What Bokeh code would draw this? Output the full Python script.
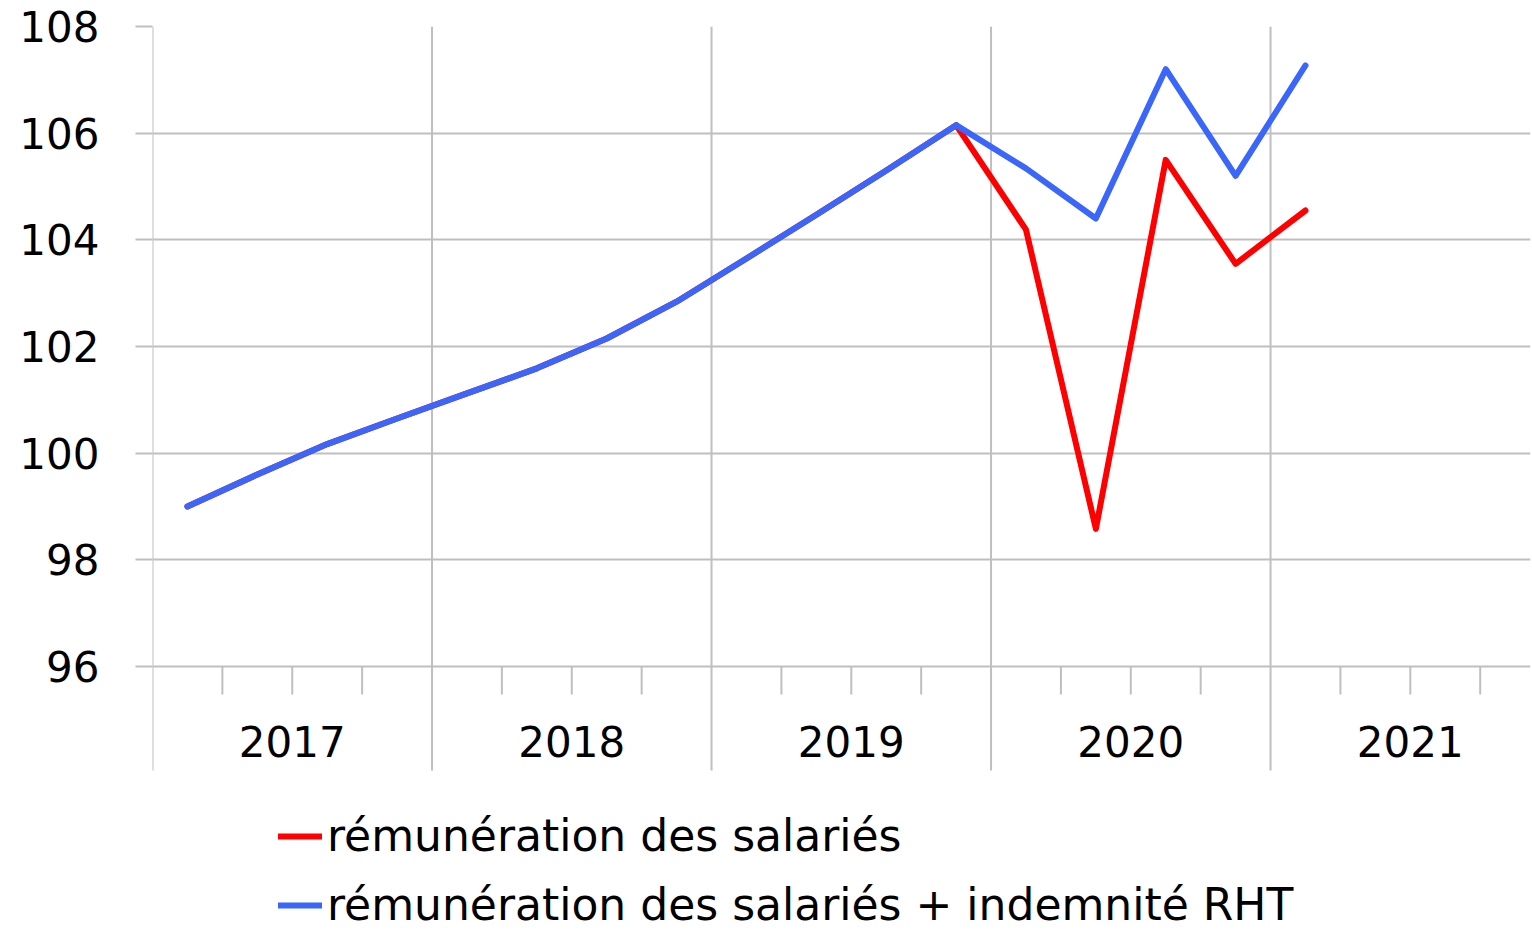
from bokeh.plotting import figure
from bokeh.models import Range1d, FixedTicker, Legend, LegendItem
from bokeh.core.properties import value
from bokeh.embed import file_html
from bokeh.resources import INLINE

# ---- data ----
years = ["2017", "2018", "2019", "2020", "2021"]
quarters_per_year = 4
# quarterly index, 2017 T1 .. 2021 T1
remuneration = [99.0, 99.6, 100.17, 100.65, 101.12, 101.59, 102.15, 102.84,
                103.65, 104.47, 105.3, 106.15, 104.19, 98.58, 105.5, 103.55, 104.55]
remuneration_rht = [99.0, 99.6, 100.17, 100.65, 101.12, 101.59, 102.15, 102.84,
                    103.65, 104.47, 105.3, 106.15, 105.34, 104.4, 107.2, 105.2, 107.27]
y_ticks = [96, 98, 100, 102, 104, 106, 108]
series_labels = ["rémunération des salariés",
                 "rémunération des salariés + indemnité RHT"]

# ---- derived positions ----
n_q = len(years) * quarters_per_year
xpos = [i + 0.5 for i in range(len(remuneration))]
year_bounds = [i * quarters_per_year for i in range(len(years))]
year_centers = [b + quarters_per_year / 2 for b in year_bounds]
quarter_ticks = [q for q in range(1, n_q) if q % quarters_per_year != 0]

FONT = "DejaVu Sans"
GRID = "#BFBFBF"
y_min, y_max = min(y_ticks), max(y_ticks)
px_per_unit = 53.33
tick_len = 28 / px_per_unit
bound_len = 104 / px_per_unit

p = figure(width=1532, height=932, output_backend="svg", toolbar_location=None,
           x_range=Range1d(0, 19.72), y_range=Range1d(91.012, 108),
           min_border_left=152, min_border_right=2, min_border_top=26,
           min_border_bottom=0)
p.outline_line_color = None
p.background_fill_color = "white"
p.border_fill_color = "white"

# x axis not drawn as an axis; year separators and quarter ticks below
p.xaxis.visible = False
p.xgrid.visible = False
p.ygrid.ticker = FixedTicker(ticks=y_ticks)
p.ygrid.grid_line_color = GRID
p.ygrid.grid_line_width = 2

p.segment(x0=year_bounds, x1=year_bounds,
          y0=[y_max] * len(year_bounds), y1=[y_min - bound_len] * len(year_bounds),
          line_color=GRID, line_width=2)
p.segment(x0=quarter_ticks, x1=quarter_ticks,
          y0=[y_min] * len(quarter_ticks), y1=[y_min - tick_len] * len(quarter_ticks),
          line_color=GRID, line_width=2)

# y axis
ya = p.yaxis[0]
ya.ticker = FixedTicker(ticks=y_ticks, minor_ticks=[])
ya.axis_line_color = None
ya.major_tick_in = 0
ya.major_tick_out = 17
ya.major_tick_line_color = GRID
ya.major_tick_line_width = 2
ya.minor_tick_line_color = None
ya.major_label_standoff = 36
ya.major_label_text_font = FONT
ya.major_label_text_font_size = "42px"
ya.major_label_text_color = "#000000"

# year labels
p.text(x=year_centers, y=[y_min - 1.40] * len(years), text=years,
       text_font=value(FONT), text_font_size=value("42px"),
       text_align="center", text_baseline="middle", text_color="#000000")

# series
r_red = p.line(xpos, remuneration, line_color="#FF0000", line_width=6,
               line_join="round", line_cap="round")
r_blue = p.line(xpos, remuneration_rht, line_color="#3A66FC", line_width=6,
                line_join="round", line_cap="round")

legend = Legend(items=[LegendItem(label=series_labels[0], renderers=[r_red]),
                       LegendItem(label=series_labels[1], renderers=[r_blue])],
                location=(126, 2), orientation="vertical",
                glyph_width=44, glyph_height=30, label_height=30, spacing=18,
                label_standoff=5, padding=0, margin=0,
                border_line_color=None, background_fill_alpha=0,
                label_text_font=FONT, label_text_font_size="44px",
                label_text_color="#000000")
p.add_layout(legend)

open("out.html", "w").write(file_html(p, INLINE))
